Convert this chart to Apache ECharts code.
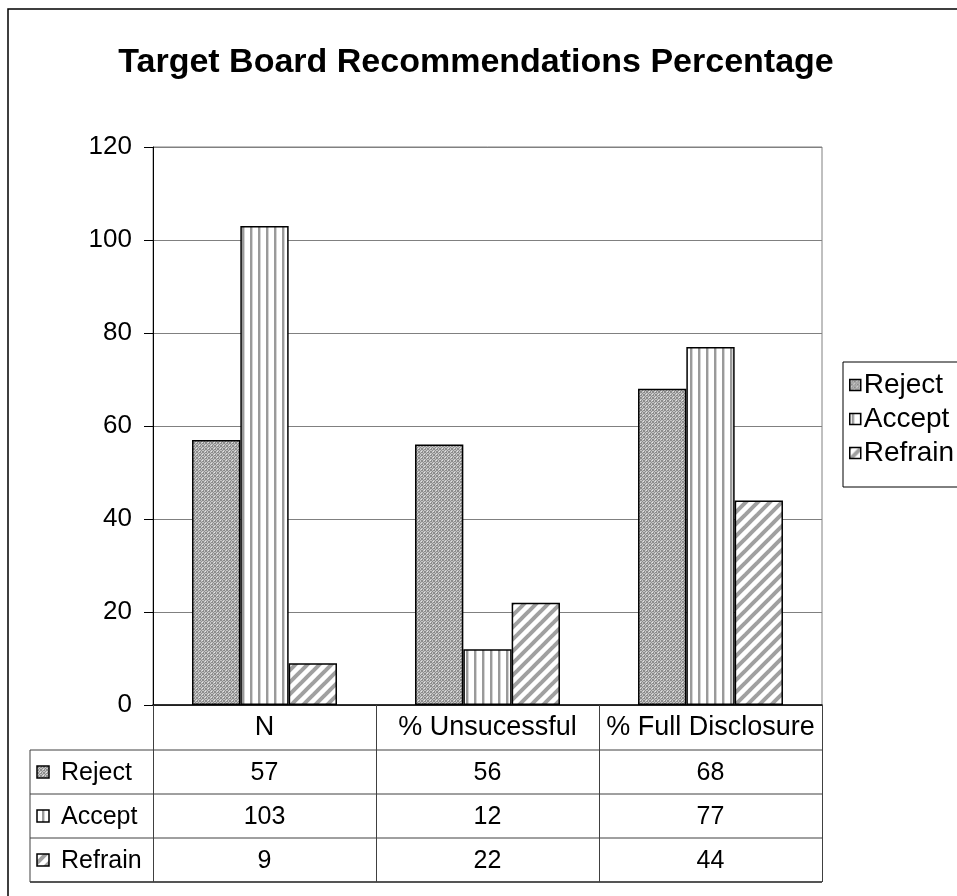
<!DOCTYPE html>
<html>
<head>
<meta charset="utf-8">
<script src="https://cdn.jsdelivr.net/npm/echarts@6/dist/echarts.min.js"></script>
<style>
  html, body { margin: 0; padding: 0; background: #fff; }
  #chart { width: 957px; height: 896px; }
</style>
</head>
<body>
<div id="chart"></div>
<script>
// data
let categories = ['N', '% Unsucessful', '% Full Disclosure'];
let seriesNames = ['Reject', 'Accept', 'Refrain'];
let reject = [57, 56, 68];
let accept = [103, 12, 77];
let refrain = [9, 22, 44];
let yMin = 0, yMax = 120, yStep = 20;

let FONT = '"Liberation Sans", Arial, sans-serif';
let gridLeft = 153, gridTop = 147, gridRight = 822, gridBottom = 705;
let tableLeft = 30, rowH = 44, headerH = 45;

function makePattern(w, h, draw) {
  let c = document.createElement('canvas');
  c.width = w; c.height = h;
  draw(c.getContext('2d'));
  return { image: c, repeat: 'repeat' };
}

// crosshatch mesh
let patReject = makePattern(6, 6, function (ctx) {
  ctx.fillStyle = '#c4c4c4';
  ctx.fillRect(0, 0, 6, 6);
  ctx.fillStyle = '#8c8c8c';
  for (let x = 0; x < 6; x++) {
    for (let y = 0; y < 6; y++) {
      if ((x + y) % 3 === 0 || (x - y + 6) % 3 === 0) ctx.fillRect(x, y, 1, 1);
    }
  }
  ctx.fillStyle = '#e4e4e4';
  ctx.fillRect(1, 1, 1, 1);
  ctx.fillRect(4, 4, 1, 1);
});
// vertical stripes
let patAccept = makePattern(8, 4, function (ctx) {
  ctx.fillStyle = '#fff';
  ctx.fillRect(0, 0, 8, 4);
  ctx.fillStyle = '#9a9a9a';
  ctx.fillRect(2, 0, 2, 4);
  ctx.fillStyle = '#d4d4d4';
  ctx.fillRect(4, 0, 1, 4);
});
// diagonal stripes
let patRefrain = makePattern(12, 12, function (ctx) {
  ctx.fillStyle = '#fff';
  ctx.fillRect(0, 0, 12, 12);
  ctx.strokeStyle = '#a0a0a0';
  ctx.lineWidth = 4;
  [-12, 0, 12].forEach(function (o) {
    ctx.beginPath();
    ctx.moveTo(o - 2, 14);
    ctx.lineTo(o + 14, -2);
    ctx.stroke();
  });
});
let patterns = [patReject, patAccept, patRefrain];
let values = [reject, accept, refrain];

let chart = echarts.init(document.getElementById('chart'));

let option = {
  backgroundColor: '#fff',
  animation: false,
  title: {
    text: 'Target Board Recommendations Percentage',
    left: 471,
    textAlign: 'center',
    top: 41,
    textStyle: { fontFamily: FONT, fontSize: 34, fontWeight: 'bold', color: '#000' }
  },
  legend: {
    orient: 'vertical',
    left: 843,
    top: 362,
    padding: [9, 40, 20, 6],
    itemGap: 6,
    itemWidth: 11,
    itemHeight: 11,
    borderColor: '#000',
    borderWidth: 1,
    icon: 'rect',
    itemStyle: { borderColor: '#000', borderWidth: 1.5 },
    textStyle: { fontFamily: FONT, fontSize: 28, color: '#000', padding: [0, 0, 0, -2] },
    data: seriesNames
  },
  grid: {
    left: gridLeft,
    top: gridTop,
    width: gridRight - gridLeft,
    height: gridBottom - gridTop,
    show: true,
    borderColor: '#808080',
    borderWidth: 1
  },
  xAxis: {
    type: 'category',
    data: categories,
    axisLine: { lineStyle: { color: '#000', width: 1.5 } },
    axisTick: { show: true, length: headerH + rowH * 3, interval: 0, lineStyle: { color: '#404040' } },
    axisLabel: { fontFamily: FONT, fontSize: 27, color: '#000', margin: 9, interval: 0 },
    splitLine: { show: false }
  },
  yAxis: {
    type: 'value',
    min: yMin,
    max: yMax,
    interval: yStep,
    axisLine: { show: true, lineStyle: { color: '#000' } },
    axisTick: { show: true, length: 9, lineStyle: { color: '#000' } },
    axisLabel: { fontFamily: FONT, fontSize: 26, color: '#000', margin: 21 },
    splitLine: { lineStyle: { color: '#808080', width: 1.2 } }
  },
  series: seriesNames.map(function (name, i) {
    return {
      name: name,
      type: 'bar',
      data: values[i],
      barGap: '0%',
      barCategoryGap: '35%',
      itemStyle: { color: patterns[i], borderColor: '#000', borderWidth: 1.5 }
    };
  })
};

chart.setOption(option);

// data table under the axis, positioned from the category axis
function buildTable() {
  let centers = categories.map(function (c, i) {
    return chart.convertToPixel({ xAxisIndex: 0 }, i);
  });
  let band = centers[1] - centers[0];
  let right = centers[centers.length - 1] + band / 2;
  let y0 = gridBottom + headerH;
  let els = [];
  for (let r = 0; r <= seriesNames.length; r++) {
    let y = y0 + r * rowH;
    let last = r === seriesNames.length;
    els.push({
      type: 'line',
      shape: { x1: tableLeft, y1: y, x2: right, y2: y },
      style: { stroke: last ? '#555' : '#404040', lineWidth: last ? 2 : 1 }
    });
  }
  els.push({
    type: 'line',
    shape: { x1: tableLeft, y1: y0, x2: tableLeft, y2: y0 + rowH * seriesNames.length },
    style: { stroke: '#404040', lineWidth: 1 }
  });
  seriesNames.forEach(function (name, r) {
    let cy = y0 + r * rowH + rowH / 2;
    els.push({
      type: 'rect',
      shape: { x: tableLeft + 7, y: cy - 6, width: 12, height: 12 },
      style: { fill: patterns[r], stroke: '#000', lineWidth: 1.5 }
    });
    els.push({
      type: 'text',
      style: { x: tableLeft + 31, y: cy + 1, text: name, fontFamily: FONT, fontSize: 25, fill: '#000', verticalAlign: 'middle' }
    });
    values[r].forEach(function (v, c) {
      els.push({
        type: 'text',
        style: { x: centers[c], y: cy + 1, text: String(v), fontFamily: FONT, fontSize: 25, fill: '#000', align: 'center', verticalAlign: 'middle' }
      });
    });
  });
  // outer chart border
  els.push({
    type: 'rect',
    shape: { x: 8, y: 9, width: 1000, height: 1000 },
    style: { fill: null, stroke: '#000', lineWidth: 1.5 },
    silent: true
  });
  chart.setOption({ graphic: { elements: els } });
}

buildTable();
</script>
</body>
</html>
